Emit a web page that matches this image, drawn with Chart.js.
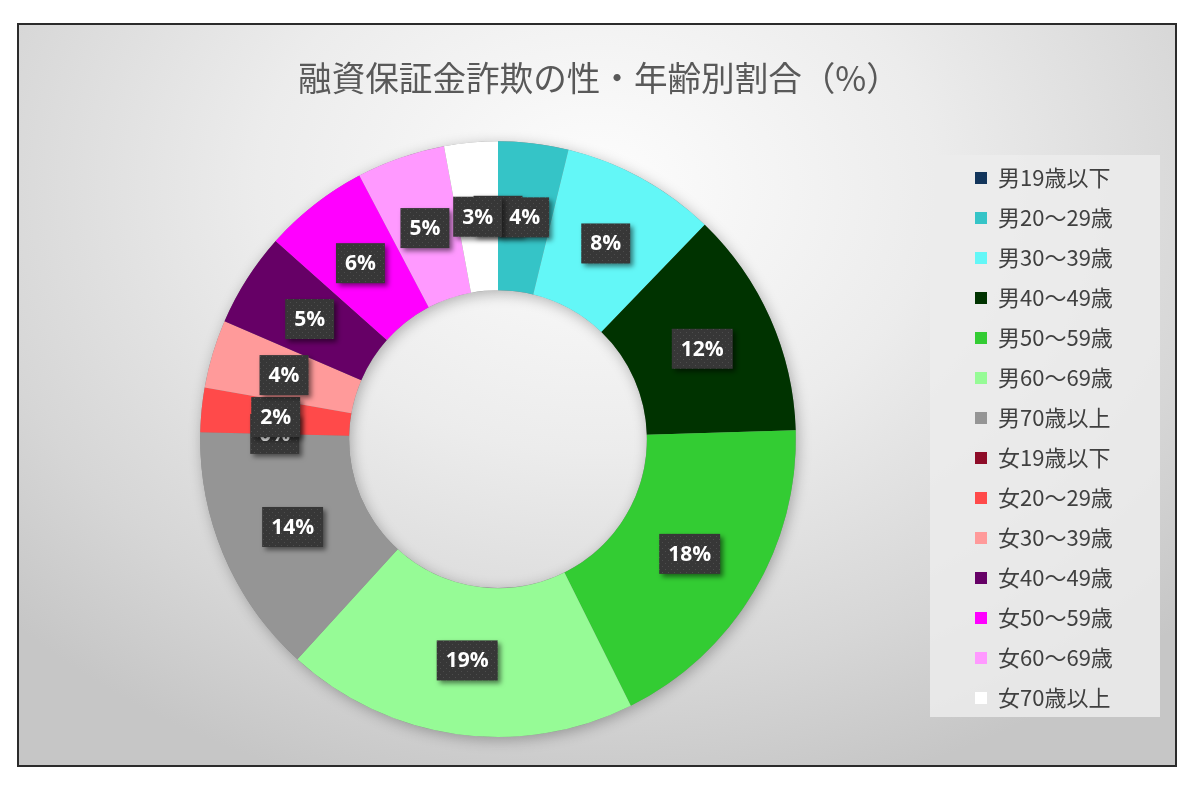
<!DOCTYPE html>
<html lang="ja">
<head>
<meta charset="utf-8">
<title>融資保証金詐欺の性・年齢別割合（%）</title>
<script src="https://cdn.jsdelivr.net/npm/chart.js@4.4.1/dist/chart.umd.min.js"></script>
<style>
  html, body { margin: 0; padding: 0; background: #fff; }
  #frame {
    position: absolute; left: 17px; top: 23px;
    width: 1156px; height: 740px;
    border: 2px solid #2b2b2b;
    background: radial-gradient(ellipse 70% 85% at 50% 22%, #fdfdfd 0%, #ececec 42%, #d6d6d6 78%, #c6c6c6 100%);
  }
  #frame canvas { display: block; }
</style>
</head>
<body>
<div id="frame"><canvas id="chart" width="1156" height="740"></canvas></div>
<script>
// ===== データ =====
const chartTitle = "融資保証金詐欺の性・年齢別割合（%）";

const categories = [
  "男19歳以下", "男20～29歳", "男30～39歳", "男40～49歳", "男50～59歳",
  "男60～69歳", "男70歳以上", "女19歳以下", "女20～29歳", "女30～39歳",
  "女40～49歳", "女50～59歳", "女60～69歳", "女70歳以上"
];

// 割合（%）— ラベルは四捨五入して表示
const shares = [0, 3.8, 8.4, 12.3, 18.1, 19.1, 13.6, 0, 2.4, 3.7, 5.1, 5.7, 4.8, 2.9];

const sliceColors = [
  "#12355b", "#35c4c7", "#63f7f7", "#003300", "#33cc33",
  "#96fb96", "#959595", "#8e0c28", "#ff4a4a", "#ff9a9a",
  "#660066", "#ff00ff", "#ff99ff", "#ffffff"
];

// 凡例を下にずらすための（空の）凡例タイトルの高さ
const LEGEND_SHIFT = 114;

// ===== ラベル用の網点パターン =====
function makeDotPattern(ctx) {
  const c = document.createElement("canvas");
  c.width = 6; c.height = 6;
  const p = c.getContext("2d");
  p.fillStyle = "#373737";
  p.fillRect(0, 0, 6, 6);
  p.fillStyle = "#4d4d4d";
  p.fillRect(1, 1, 1, 1);
  p.fillRect(4, 4, 1, 1);
  return ctx.createPattern(c, "repeat");
}

// ===== プラグイン：凡例の背景 =====
const legendBackground = {
  id: "legendBackground",
  beforeDraw(chart) {
    const lg = chart.legend;
    if (!lg) return;
    const ctx = chart.ctx;
    const markerX = lg.left + lg.options.labels.padding;
    const midY = (lg.top + lg.bottom) / 2 + LEGEND_SHIFT / 2;
    ctx.save();
    ctx.fillStyle = "rgba(236,236,236,0.85)";
    ctx.fillRect(markerX - 45, midY - 283, 230, 562);
    ctx.restore();
  }
};

// ===== プラグイン：リングの影 =====
const ringShadow = {
  id: "ringShadow",
  beforeDatasetsDraw(chart) {
    const arc = chart.getDatasetMeta(0).data[0];
    if (!arc) return;
    const { x, y, innerRadius, outerRadius } = arc.getProps(["x", "y", "innerRadius", "outerRadius"], true);
    const ctx = chart.ctx;
    ctx.save();
    ctx.shadowColor = "rgba(0,0,0,0.28)";
    ctx.shadowBlur = 14;
    ctx.shadowOffsetX = 2;
    ctx.shadowOffsetY = 3;
    ctx.beginPath();
    ctx.arc(x, y, outerRadius, 0, Math.PI * 2);
    ctx.arc(x, y, innerRadius, 0, Math.PI * 2, true);
    ctx.fillStyle = "#888";
    ctx.fill();
    ctx.restore();
  }
};

// ===== プラグイン：データラベル（濃いグレーの箱＋白文字） =====
const boxLabels = {
  id: "boxLabels",
  afterDatasetsDraw(chart) {
    const ctx = chart.ctx;
    const meta = chart.getDatasetMeta(0);
    const pattern = makeDotPattern(ctx);
    ctx.save();
    ctx.font = 'bold 21px "Open Sans", "DejaVu Sans", sans-serif';
    ctx.textAlign = "center";
    ctx.textBaseline = "middle";
    meta.data.forEach((arc, i) => {
      const p = arc.getCenterPoint(true);
      const text = Math.round(shares[i]) + "%";
      const w = ctx.measureText(text).width + 18;
      const h = 40;
      ctx.shadowColor = "rgba(0,0,0,0.5)";
      ctx.shadowBlur = 5;
      ctx.shadowOffsetX = 3;
      ctx.shadowOffsetY = 3;
      ctx.fillStyle = pattern;
      ctx.fillRect(p.x - w / 2, p.y - h / 2, w, h);
      ctx.shadowColor = "transparent";
      ctx.fillStyle = "#ffffff";
      ctx.fillText(text, p.x, p.y + 1);
    });
    ctx.restore();
  }
};

// ===== プラグイン：凡例の幅を固定 =====
const legendWidth = {
  id: "legendWidth",
  beforeInit(chart) {
    const origFit = chart.legend.fit;
    chart.legend.fit = function () {
      origFit.bind(chart.legend)();
      this.width = 202;
    };
  }
};

const ctx = document.getElementById("chart").getContext("2d");
new Chart(ctx, {
  type: "doughnut",
  data: {
    labels: categories,
    datasets: [{
      data: shares,
      backgroundColor: sliceColors,
      borderWidth: 0,
      hoverOffset: 0,
      offset: 0
    }]
  },
  options: {
    responsive: false,
    animation: false,
    cutout: "50%",
    layout: { padding: { left: 20, right: 16, top: 0, bottom: 28 } },
    plugins: {
      title: {
        display: true,
        text: chartTitle,
        color: "#595959",
        font: { family: '"Noto Sans CJK JP", sans-serif', size: 33.6, weight: "normal" },
        padding: { top: 33, bottom: 43 }
      },
      legend: {
        position: "right",
        title: {
          display: true,
          text: "",
          font: { size: 12, lineHeight: 1.2 },
          padding: { top: 0, bottom: LEGEND_SHIFT - 14.4 }
        },
        labels: {
          boxWidth: 12,
          boxHeight: 12,
          padding: 18,
          color: "#404040",
          font: { family: '"Noto Sans CJK JP", sans-serif', size: 22 }
        }
      },
      tooltip: { enabled: false }
    }
  },
  plugins: [legendWidth, legendBackground, ringShadow, boxLabels]
});
</script>
</body>
</html>
